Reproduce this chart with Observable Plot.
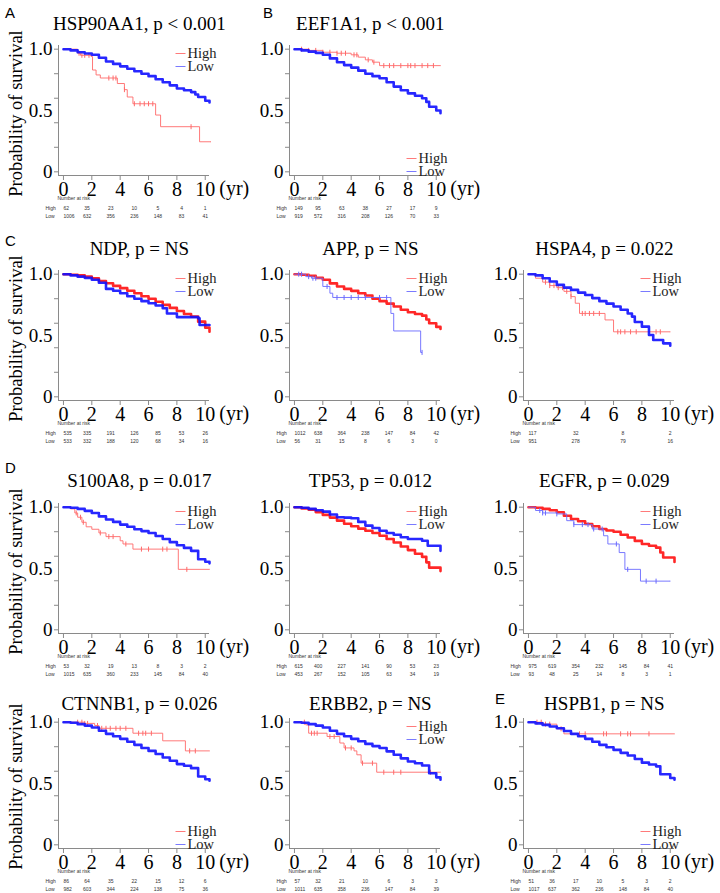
<!DOCTYPE html>
<html><head><meta charset="utf-8">
<script src="https://cdn.jsdelivr.net/npm/d3@7"></script>
<script src="https://cdn.jsdelivr.net/npm/@observablehq/plot@0.6"></script>
<style>
body{margin:0;background:#fff;overflow:hidden}
#fig{position:relative;width:720px;height:893px;background:#fff;overflow:hidden}
.letter{position:absolute;font-family:"Liberation Sans",Arial,sans-serif;font-size:15px;color:#000;line-height:1}
</style></head>
<body><div id="fig"></div>
<script>
// ---------- data ----------
const xTicks = [0, 2, 4, 6, 8, 10];
const yTicksMinor = [0, 0.2, 0.4, 0.6, 0.8, 1];
const yTicksLabeled = [0, 0.5, 1];
const panelLetters = ["A", "B", "C", "D", "E"];

const genes = ["HSP90AA1", "EEF1A1", "NDP", "APP", "HSPA4", "S100A8", "TP53", "EGFR", "CTNNB1", "ERBB2", "HSPB1"];
const pValues = ["p < 0.001", "p < 0.001", "p = NS", "p = NS", "p = 0.022", "p = 0.017", "p = 0.012", "p = 0.029", "p = 0.026", "p = NS", "p = NS"];

// Kaplan-Meier curves: [years, survival probability]
const hsp90aa1High = [[0,1],[1.0,0.967],[1.2,0.95],[1.95,0.94],[2.05,0.83],[2.3,0.79],[2.6,0.765],[3.8,0.72],[4.3,0.67],[4.5,0.61],[4.9,0.555],[6.5,0.463],[6.85,0.368],[9.6,0.245],[10.4,0.245]];
const hsp90aa1Low = [[0,1],[0.5,0.99],[1,0.975],[1.5,0.965],[2,0.954],[2.5,0.93],[3,0.9],[3.5,0.88],[4,0.86],[4.5,0.84],[5,0.82],[5.5,0.8],[6,0.78],[6.5,0.755],[7,0.73],[7.5,0.705],[8,0.68],[8.5,0.665],[9,0.65],[9.3,0.63],[9.5,0.61],[10,0.58],[10.3,0.565]];
const eef1a1High = [[0,1],[1,0.99],[2,0.975],[3,0.967],[4,0.954],[4.5,0.935],[5,0.913],[5.5,0.894],[6,0.866],[10.3,0.866]];
const eef1a1Low = [[0,1],[0.5,0.99],[1,0.98],[1.5,0.97],[2,0.954],[2.5,0.925],[3,0.894],[3.5,0.87],[4,0.85],[4.5,0.825],[5,0.8],[5.5,0.78],[6,0.763],[6.5,0.73],[7,0.695],[7.5,0.665],[8,0.64],[8.5,0.62],[9,0.6],[9.3,0.57],[9.5,0.53],[10,0.5],[10.3,0.477]];
const ndpHigh = [[0,1],[0.5,0.995],[1,0.99],[1.5,0.98],[2,0.967],[2.5,0.945],[3,0.926],[3.5,0.905],[4,0.886],[4.5,0.865],[5,0.845],[5.5,0.82],[6,0.8],[6.5,0.775],[7,0.75],[7.5,0.725],[8,0.7],[8.5,0.675],[9,0.654],[9.5,0.613],[10,0.564],[10.3,0.53]];
const ndpLow = [[0,1],[0.5,0.99],[1,0.98],[1.5,0.97],[2,0.954],[2.5,0.93],[3,0.88],[3.5,0.865],[4,0.845],[4.5,0.82],[5,0.8],[5.5,0.78],[6,0.763],[6.5,0.745],[7,0.722],[7.3,0.68],[8,0.65],[9.5,0.64],[9.6,0.586],[10.3,0.586]];
const appHigh = [[0,1],[0.5,0.995],[1,0.987],[1.5,0.97],[2,0.954],[2.5,0.925],[3,0.9],[3.5,0.88],[4,0.864],[4.5,0.845],[5,0.826],[5.5,0.8],[6,0.78],[6.5,0.76],[7,0.736],[7.5,0.71],[8,0.69],[8.5,0.675],[9,0.662],[9.3,0.63],[9.5,0.6],[10,0.57],[10.3,0.553]];
const appLow = [[0,1],[0.8,0.98],[1.2,0.967],[2.0,0.9],[2.5,0.845],[2.7,0.81],[6.8,0.68],[7.0,0.537],[8.9,0.362],[9.0,0.362]];
const hspa4High = [[0,1],[0.5,0.967],[1,0.935],[1.5,0.907],[2,0.89],[2.5,0.86],[3,0.817],[3.3,0.763],[3.6,0.68],[5.4,0.627],[6.0,0.53],[10,0.53]];
const hspa4Low = [[0,1],[0.5,0.99],[1,0.967],[1.5,0.94],[2,0.913],[2.5,0.89],[3,0.872],[3.5,0.85],[4,0.83],[4.5,0.805],[5,0.78],[5.5,0.76],[6,0.736],[6.5,0.71],[7,0.68],[7.3,0.654],[7.5,0.61],[8,0.572],[8.5,0.504],[8.8,0.463],[9.5,0.436],[10,0.417]];
const s100a8High = [[0,1],[0.5,0.986],[0.8,0.953],[1,0.918],[1.3,0.877],[1.6,0.84],[2,0.82],[2.5,0.79],[3,0.76],[4,0.726],[4.2,0.7],[4.9,0.658],[8.1,0.493],[10.3,0.493]];
const s100a8Low = [[0,1],[0.5,0.995],[1,0.986],[1.5,0.97],[2,0.953],[2.5,0.925],[3,0.9],[3.5,0.88],[4,0.858],[4.5,0.84],[5,0.82],[5.5,0.805],[6,0.79],[6.5,0.765],[7,0.74],[7.5,0.715],[8,0.69],[8.5,0.668],[9,0.644],[9.5,0.575],[10,0.555],[10.3,0.542]];
const tp53High = [[0,1],[0.5,0.99],[1,0.98],[1.5,0.96],[2,0.937],[2.5,0.915],[3,0.89],[3.5,0.865],[4,0.844],[4.5,0.825],[5,0.808],[5.5,0.79],[6,0.767],[6.5,0.74],[7,0.712],[7.5,0.68],[8,0.65],[8.5,0.62],[9,0.595],[9.3,0.55],[9.5,0.507],[10.3,0.479]];
const tp53Low = [[0,1],[0.5,0.995],[1,0.986],[1.5,0.975],[2,0.964],[2.5,0.94],[3,0.918],[3.5,0.915],[4,0.91],[4.5,0.88],[5,0.85],[5.5,0.83],[6,0.808],[6.5,0.79],[7,0.775],[7.5,0.755],[8,0.74],[9,0.726],[9.4,0.685],[10.3,0.644]];
const egfrHigh = [[0,1],[0.5,0.995],[1,0.986],[1.5,0.975],[2,0.959],[2.5,0.93],[3,0.904],[3.5,0.885],[4,0.863],[4.5,0.845],[5,0.822],[5.5,0.81],[6,0.8],[6.5,0.775],[7,0.753],[7.5,0.725],[8,0.7],[8.5,0.685],[9,0.67],[9.3,0.63],[9.5,0.59],[10.3,0.553]];
const egfrLow = [[0,1],[0.5,0.973],[1,0.953],[2,0.945],[2.7,0.89],[3.2,0.858],[4.5,0.822],[5.3,0.767],[5.6,0.7],[6.4,0.63],[6.8,0.493],[7.9,0.397],[10,0.397]];
const ctnnb1High = [[0,1],[1.5,0.99],[2.2,0.973],[2.5,0.95],[4.9,0.91],[7.0,0.848],[8.6,0.766],[10.3,0.766]];
const ctnnb1Low = [[0,1],[0.5,0.995],[1,0.984],[1.5,0.972],[2,0.957],[2.5,0.93],[3,0.905],[3.5,0.885],[4,0.864],[4.5,0.84],[5,0.815],[5.5,0.79],[6,0.766],[6.5,0.74],[7,0.712],[7.5,0.685],[8,0.658],[8.5,0.645],[9,0.625],[9.5,0.557],[10,0.535],[10.3,0.522]];
const erbb2High = [[0,1],[0.8,0.978],[1.0,0.91],[2.3,0.883],[3.2,0.83],[3.5,0.79],[4.2,0.766],[4.4,0.734],[4.7,0.666],[5.8,0.592],[10.3,0.592]];
const erbb2Low = [[0,1],[0.5,0.995],[1,0.984],[1.5,0.972],[2,0.957],[2.5,0.93],[3,0.905],[3.5,0.885],[4,0.864],[4.5,0.845],[5,0.823],[5.5,0.805],[6,0.79],[6.5,0.762],[7,0.734],[7.5,0.705],[8,0.68],[8.5,0.665],[9,0.647],[9.5,0.584],[10,0.55],[10.3,0.53]];
const hspb1High = [[0,1],[1,0.984],[2,0.946],[2.5,0.905],[10.3,0.905]];
const hspb1Low = [[0,1],[0.5,0.99],[1,0.978],[1.5,0.965],[2,0.95],[2.5,0.928],[3,0.905],[3.5,0.885],[4,0.864],[4.5,0.84],[5,0.815],[5.5,0.795],[6,0.774],[6.5,0.75],[7,0.728],[7.5,0.7],[8,0.67],[8.5,0.655],[9,0.64],[9.3,0.576],[10,0.545],[10.3,0.53]];

// censoring times (years) for the smaller groups
const hsp90aa1HighCensor = [1.1,1.3,1.5,1.8,3.2,3.5,3.7,4.3,5.0,5.4,5.7,6.0,6.3,9.0];
const eef1a1HighCensor = [0.5,1,1.5,2,2.5,3,3.3,3.6,4.2,4.4,5.2,5.6,6.3,6.7,7.0,7.5,8.0,8.2,8.5,9.0,9.4,9.8];
const appLowCensor = [0.3,0.5,1.0,1.3,1.5,2.3,3.0,3.5,4.0,4.5,5.0,6.0,6.5,9.0];
const hspa4HighCensor = [1.2,1.5,1.8,2.1,2.4,2.7,3.0,3.8,4.0,4.3,4.6,5.0,6.3,6.5,6.8,7.2,7.6,9.0,9.3];
const s100a8HighCensor = [0.9,1.2,1.4,2.6,3.2,3.5,4.4,5.5,6.0,7.0,7.3,8.7];
const egfrLowCensor = [0.8,1.0,1.2,2.0,3.2,3.8,4.2,4.6,5.2,6.2,7.0,8.3,9.0];
const ctnnb1HighCensor = [1.0,1.3,1.5,1.7,2.4,2.7,3.0,3.3,3.7,4.0,4.4,5.3,5.6,5.8,6.2,8.9,9.3];
const erbb2HighCensor = [0.7,1.2,1.4,1.6,2.5,2.8,3.6,4.0,4.8,5.5,6.3,7.0,7.5,9.6];
const hspb1HighCensor = [0.6,0.9,1.2,1.5,2.3,3.6,4.0,5.3,5.5,6.5,7.0,7.2,8.5];

// numbers at risk
const hsp90aa1Risk = {high: [62,35,23,10,5,4,1], low: [1006,632,356,236,148,83,41]};
const eef1a1Risk = {high: [149,95,63,38,27,17,9], low: [919,572,316,208,126,70,33]};
const ndpRisk = {high: [535,335,191,126,85,53,26], low: [533,332,188,120,68,34,16]};
const appRisk = {high: [1012,638,364,238,147,84,42], low: [56,31,15,8,6,3,0]};
const hspa4Risk = {high: [117,32,8,2], low: [951,278,79,16]};
const s100a8Risk = {high: [53,32,19,13,8,3,2], low: [1015,635,360,233,145,84,40]};
const tp53Risk = {high: [615,400,227,141,90,53,23], low: [453,267,152,105,63,34,19]};
const egfrRisk = {high: [975,619,354,232,145,84,41], low: [93,48,25,14,8,3,1]};
const ctnnb1Risk = {high: [86,64,35,22,15,12,6], low: [982,603,344,224,138,75,36]};
const erbb2Risk = {high: [57,32,21,10,6,3,3], low: [1011,635,358,236,147,84,39]};
const hspb1Risk = {high: [51,36,17,10,5,3,2], low: [1017,637,362,236,148,84,40]};

// ---------- layout ----------
const colLeft = [0, 231, 465];
const rowTop = [0, 225, 458, 673];
const titleDy = [-22, -22, -23, -15];
const letterPos = [[5,5],[263,5],[5,233],[5,460],[495,691]];

const panels = [
  {g:0, high:hsp90aa1High, low:hsp90aa1Low, hc:hsp90aa1HighCensor, lc:[], risk:hsp90aa1Risk, legend:"top", row:0, col:0},
  {g:1, high:eef1a1High, low:eef1a1Low, hc:eef1a1HighCensor, lc:[], risk:eef1a1Risk, legend:"bottom", row:0, col:1},
  {g:2, high:ndpHigh, low:ndpLow, hc:[], lc:[], risk:ndpRisk, legend:"top", row:1, col:0},
  {g:3, high:appHigh, low:appLow, hc:[], lc:appLowCensor, risk:appRisk, legend:"top", row:1, col:1},
  {g:4, high:hspa4High, low:hspa4Low, hc:hspa4HighCensor, lc:[], risk:hspa4Risk, legend:"top", row:1, col:2},
  {g:5, high:s100a8High, low:s100a8Low, hc:s100a8HighCensor, lc:[], risk:s100a8Risk, legend:"top", row:2, col:0},
  {g:6, high:tp53High, low:tp53Low, hc:[], lc:[], risk:tp53Risk, legend:"top", row:2, col:1},
  {g:7, high:egfrHigh, low:egfrLow, hc:[], lc:egfrLowCensor, risk:egfrRisk, legend:"top", row:2, col:2},
  {g:8, high:ctnnb1High, low:ctnnb1Low, hc:ctnnb1HighCensor, lc:[], risk:ctnnb1Risk, legend:"bottom", row:3, col:0},
  {g:9, high:erbb2High, low:erbb2Low, hc:erbb2HighCensor, lc:[], risk:erbb2Risk, legend:"top", row:3, col:1},
  {g:10, high:hspb1High, low:hspb1Low, hc:hspb1HighCensor, lc:[], risk:hspb1Risk, legend:"bottom", row:3, col:2}
];

const SERIF = "Liberation Serif";
const SANS = "Liberation Sans";
const vtick = {draw(ctx){ ctx.moveTo(0,-2.5); ctx.lineTo(0,2.5); }};
const hline = {draw(ctx){ ctx.moveTo(-5,0); ctx.lineTo(5,0); }};

function survivalAt(curve, t) {
  let s = curve[0][1];
  for (const [ti, si] of curve) { if (ti <= t) s = si; else break; }
  return s;
}

function curveMarks(curve, censor, n0, hue) {
  const dense = n0 >= 300;
  const color = hue === "red" ? (dense ? "#ff1010" : "#ff6a6a") : (dense ? "#1010ff" : "#6a6aff");
  const pts = curve.map(([t, s]) => ({t, s}));
  const cs = censor.map(t => ({t, s: survivalAt(curve, t)}));
  return [
    Plot.line(pts, {x: "t", y: "s", curve: "step-after", stroke: color, strokeWidth: dense ? 2.6 : 1, strokeOpacity: 0.9}),
    Plot.dot(cs, {x: "t", y: "s", symbol: vtick, stroke: color, fill: "none", strokeWidth: 1})
  ];
}

function makePanel(p) {
  const W = 249, H = 225;
  const legendDy = p.legend === "top" ? [8, 21] : [113, 126];
  const nCols = p.risk.high.length;
  const colX = (d, i) => i * 10 / (nCols - 1);
  const colX1 = (d, i) => (i + 1) * 10 / (nCols - 1);
  const riskText = {fontSize: 5, fontFamily: SANS, fill: "#333", lineAnchor: "middle"};
  const firstHigh = p.risk.high.slice(0, 1), restHigh = p.risk.high.slice(1);
  const firstLow = p.risk.low.slice(0, 1), restLow = p.risk.low.slice(1);
  const marks = [
    Plot.ruleY([-0.03], {stroke: "#8a8a8a", strokeWidth: 1}),
    Plot.ruleX([-0.35], {stroke: "#8a8a8a", strokeWidth: 1}),
    Plot.axisX(xTicks, {tickSize: 5, tickPadding: 1, fontSize: 20, fontFamily: SERIF, stroke: "#8a8a8a", fill: "#000", label: null, tickFormat: d => String(d)}),
    Plot.axisY(yTicksMinor, {tickSize: 4, stroke: "#8a8a8a", label: null, tickFormat: () => ""}),
    Plot.axisY(yTicksLabeled, {tickSize: 0, tickPadding: 6, fontSize: 19, fontFamily: SERIF, fill: "#000", label: null, tickFormat: d => d === 0 ? "0" : d.toFixed(1)}),
    ...curveMarks(p.high, p.hc, p.risk.high[0], "red"),
    ...curveMarks(p.low, p.lc, p.risk.low[0], "blue"),
    Plot.text([genes[p.g] + ", " + pValues[p.g]], {x: () => 5, frameAnchor: "top", dx: 5, dy: titleDy[p.row], lineAnchor: "middle", fontSize: 19, fontFamily: SERIF, fill: "#000"}),
    Plot.text(["(yr)"], {x: () => 10, frameAnchor: "bottom", dx: 14, dy: 13, lineAnchor: "middle", textAnchor: "start", fontSize: 20, fontFamily: SERIF, fill: "#000"}),
    // legend
    Plot.dot(["High"], {frameAnchor: "top-left", dx: 122, dy: legendDy[0], symbol: hline, stroke: "#ff7a7a", fill: "none", strokeWidth: 1}),
    Plot.dot(["Low"], {frameAnchor: "top-left", dx: 122, dy: legendDy[1], symbol: hline, stroke: "#7a7aff", fill: "none", strokeWidth: 1}),
    Plot.text(["High"], {frameAnchor: "top-left", dx: 129, dy: legendDy[0], lineAnchor: "middle", textAnchor: "start", fontSize: 14.5, fontFamily: SERIF, fill: "#222"}),
    Plot.text(["Low"], {frameAnchor: "top-left", dx: 129, dy: legendDy[1], lineAnchor: "middle", textAnchor: "start", fontSize: 14.5, fontFamily: SERIF, fill: "#222"}),
    // number at risk
    Plot.text(["Number at risk"], {frameAnchor: "bottom-left", dx: -1, dy: 23, textAnchor: "start", ...riskText}),
    Plot.text(["High"], {frameAnchor: "bottom-left", dx: -13, dy: 33, textAnchor: "start", ...riskText}),
    Plot.text(["Low"], {frameAnchor: "bottom-left", dx: -13, dy: 41, textAnchor: "start", ...riskText}),
    Plot.text(firstHigh, {x: colX, text: d => String(d), frameAnchor: "bottom", dx: 0, dy: 33, textAnchor: "start", ...riskText}),
    Plot.text(firstLow, {x: colX, text: d => String(d), frameAnchor: "bottom", dx: 0, dy: 41, textAnchor: "start", ...riskText}),
    Plot.text(restHigh, {x: colX1, text: d => String(d), frameAnchor: "bottom", dy: 33, ...riskText}),
    Plot.text(restLow, {x: colX1, text: d => String(d), frameAnchor: "bottom", dy: 41, ...riskText})
  ];
  if (p.col === 0) {
    marks.push(Plot.text(["Probability of survival"], {frameAnchor: "left", dx: -42, dy: 3, rotate: -90, textAnchor: "middle", lineAnchor: "middle", fontSize: 18.5, fontFamily: SERIF, fill: "#000"}));
  }
  const svg = Plot.plot({
    width: W, height: H,
    marginLeft: 58, marginRight: 40, marginTop: 45, marginBottom: 50,
    x: {domain: [-0.35, 10.3], axis: null},
    y: {domain: [-0.03, 1.03], axis: null},
    style: "background:none;overflow:visible;font-family:'Liberation Serif',serif;color:#000",
    marks
  });
  svg.style.position = "absolute";
  svg.style.left = colLeft[p.col] + "px";
  svg.style.top = rowTop[p.row] + "px";
  return svg;
}

const fig = document.getElementById("fig");
for (const p of panels) fig.appendChild(makePanel(p));
panelLetters.forEach((L, i) => {
  const d = document.createElement("div");
  d.className = "letter";
  d.textContent = L;
  d.style.left = letterPos[i][0] + "px";
  d.style.top = letterPos[i][1] + "px";
  fig.appendChild(d);
});
</script>
</body></html>
